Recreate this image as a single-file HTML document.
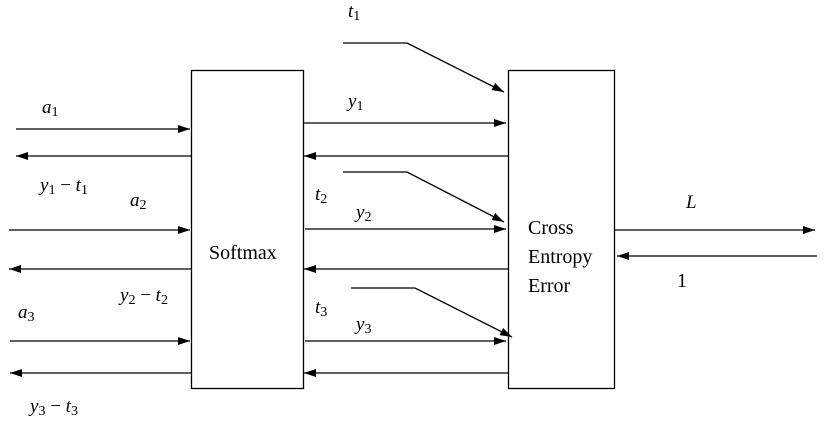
<!DOCTYPE html>
<html><head><meta charset="utf-8"><style>
html,body{margin:0;padding:0;background:#fff;}
svg{display:block}
.m{font-family:"Liberation Serif",serif;font-style:italic;font-size:19px;fill:#000}
.s{font-family:"Liberation Serif",serif;font-style:normal;font-size:14px}
.t{font-family:"Liberation Serif",serif;font-size:20px;fill:#000}
</style></head><body>
<svg width="831" height="432" viewBox="0 0 831 432" xmlns="http://www.w3.org/2000/svg">
<defs><marker id="a" markerWidth="12" markerHeight="8" refX="12" refY="4" orient="auto" markerUnits="userSpaceOnUse"><path d="M0,0 L12,4 L0,8 z" fill="#000"/></marker></defs>
<g stroke="#000" stroke-width="1.3" fill="none">
<rect x="191.5" y="70.5" width="112" height="318"/>
<rect x="508.5" y="70.5" width="106" height="318"/>
<g marker-end="url(#a)">
<line x1="16" y1="129" x2="190" y2="129"/>
<line x1="191" y1="156" x2="16" y2="156"/>
<line x1="9" y1="230" x2="190" y2="230"/>
<line x1="191" y1="269" x2="9" y2="269"/>
<line x1="10" y1="341" x2="190" y2="341"/>
<line x1="191" y1="373" x2="10" y2="373"/>
<line x1="304" y1="123" x2="506" y2="123"/>
<line x1="508" y1="156" x2="304" y2="156"/>
<line x1="305" y1="229" x2="506" y2="229"/>
<line x1="508" y1="269" x2="304" y2="269"/>
<line x1="305" y1="341" x2="506" y2="341"/>
<line x1="508" y1="373" x2="304" y2="373"/>
<polyline points="343,43 407,43 504,92"/>
<polyline points="343,172 407,172 504,222"/>
<polyline points="351,288 415,288 512,337"/>
<line x1="615" y1="230" x2="815" y2="230"/>
<line x1="817" y1="256" x2="617" y2="256"/>
</g></g>
<text class="m" x="42" y="113">a<tspan class="s" dy="3">1</tspan></text>
<text class="m" x="40" y="191">y<tspan class="s" dy="3">1</tspan><tspan dy="-3" font-style="normal"> − </tspan>t<tspan class="s" dy="3">1</tspan></text>
<text class="m" x="130" y="206">a<tspan class="s" dy="3">2</tspan></text>
<text class="m" x="120" y="301">y<tspan class="s" dy="3">2</tspan><tspan dy="-3" font-style="normal"> − </tspan>t<tspan class="s" dy="3">2</tspan></text>
<text class="m" x="18" y="318">a<tspan class="s" dy="3">3</tspan></text>
<text class="m" x="30" y="412">y<tspan class="s" dy="3">3</tspan><tspan dy="-3" font-style="normal"> − </tspan>t<tspan class="s" dy="3">3</tspan></text>
<text class="m" x="348" y="17">t<tspan class="s" dy="3">1</tspan></text>
<text class="m" x="348" y="107">y<tspan class="s" dy="3">1</tspan></text>
<text class="m" x="315" y="200">t<tspan class="s" dy="3">2</tspan></text>
<text class="m" x="356" y="218">y<tspan class="s" dy="3">2</tspan></text>
<text class="m" x="315" y="313">t<tspan class="s" dy="3">3</tspan></text>
<text class="m" x="356" y="330">y<tspan class="s" dy="3">3</tspan></text>
<text class="m" x="686" y="208">L</text>
<text class="t" x="677" y="287" fill="#300">1</text>
<text class="t" x="209" y="259">Softmax</text>
<text class="t" x="528" y="234">Cross</text>
<text class="t" x="528" y="263">Entropy</text>
<text class="t" x="528" y="292">Error</text>
</svg>
</body></html>
